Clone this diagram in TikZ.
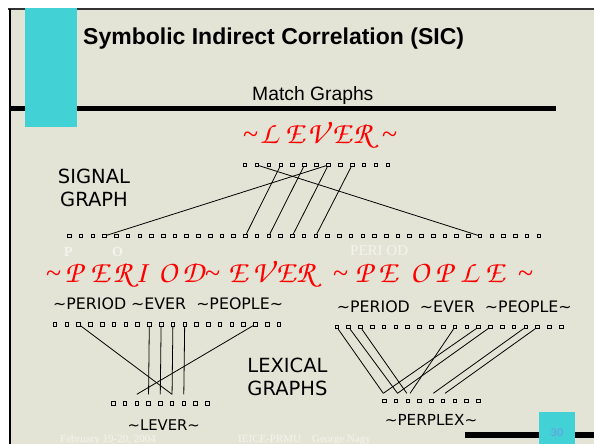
\documentclass[tikz,border=0pt]{standalone}
\usepackage{fontspec}
\usetikzlibrary{calc}
\setmainfont{Liberation Sans}
\newfontfamily\verd{DejaVu Sans}
\newfontfamily\tnr{Liberation Serif}
\newcommand\chanc{\usefont{OT1}{pzc}{mb}{it}}
\newcommand\rtl{{\tnr\itshape\fontsize{28}{30}\selectfont\textasciitilde}}
\definecolor{bg}{RGB}{228,228,214}
\definecolor{cyanbar}{RGB}{66,210,214}
\definecolor{redtxt}{RGB}{255,0,0}
\definecolor{pagenum}{RGB}{110,150,225}
\begin{document}
\begin{tikzpicture}[x=1pt,y=-1pt,
  sq/.style={draw=black,line width=0.75pt,minimum size=3.6pt,inner sep=0pt,rectangle},
  edge/.style={line width=0.8pt,black},
  lbl/.style={inner sep=0pt,anchor=base west},
  clbl/.style={inner sep=0pt,anchor=base},
  verdtxt/.style={font=\verd\fontsize{15.8}{18}\selectfont},
  bigverd/.style={font=\verd\fontsize{19.5}{22}\selectfont},
  redl/.style={inner sep=0pt,anchor=base west,text=redtxt,font=\fontsize{31}{34}\chanc},
  redtop/.style={redl,font=\fontsize{31}{34}\chanc},
  faint/.style={inner sep=0pt,anchor=base west,text=white,opacity=0.6}]
\useasboundingbox (0,0) rectangle (594,444);
\fill[white] (0,0) rectangle (594,444);
\fill[bg] (10,9) rectangle (594,444);
\draw[line width=1.4pt,black!80] (8,9) -- (594,9);
\draw[line width=2pt] (10,9) -- (10,444);
% header rule and bars
\fill[black] (10,106) rectangle (556,111);
\fill[cyanbar] (25,8) rectangle (77,127);
\fill[black] (465,432) rectangle (594,437.5);
\fill[cyanbar] (539,412) rectangle (575,444);
\node[inner sep=0pt,anchor=base,text=pagenum,font=\fontsize{11}{12}\selectfont] (pg) at (557,436) {30};
% titles
\node[lbl,font=\bfseries\fontsize{23}{26}\selectfont] (title) at (83,45) {Symbolic Indirect Correlation (SIC)};
\node[lbl,font=\fontsize{19.3}{22}\selectfont] (sub) at (252,100) {Match Graphs};
% faint white texts
\node[faint,font=\tnr\bfseries\fontsize{14}{16}\selectfont] (fp) at (64,256) {P};
\node[faint,font=\tnr\bfseries\fontsize{14}{16}\selectfont] (fo) at (112,256) {O};
\node[faint,font=\tnr\fontsize{15}{17}\selectfont] (fperiod) at (350,255.5) {PERI OD};
\node[faint,font=\tnr\fontsize{11}{13}\selectfont] (fdate) at (60,442) {February 19-20, 2004};
\node[faint,font=\tnr\fontsize{11}{13}\selectfont] (fconf) at (238,442) {IEICE-PRMU\quad George Nagy};
% red words
\foreach \x/\c [count=\n] in {243/\rtl,260/L,285/E,307/V,332/E,353/R,382/\rtl}
  \node[redtop] (rw\n) at (\x,143) {\c};
\foreach \x/\c [count=\n] in {46/\rtl,65/P,90/E,113/R,135/I,158/O,182/D,205/\rtl,228/E,252/V,276/E,296/R,333/\rtl,355/P,378/E,410/O,435/P,460/L,485/E,518/\rtl}
  \node[redl] (rs\n) at (\x,282.5) {\c};
% labels
\node[clbl,bigverd] (sig1) at (94,183.3) {SIGNAL};
\node[clbl,bigverd] (sig2) at (94,206) {GRAPH};
\node[clbl,bigverd] (lex1) at (287.5,372) {LEXICAL};
\node[clbl,bigverd] (lex2) at (287.5,395) {GRAPHS};
\node[lbl,verdtxt] (lw) at (53,309) {\textasciitilde PERIOD \textasciitilde EVER\ \ \textasciitilde PEOPLE\textasciitilde};
\node[lbl,verdtxt] (rw) at (336.7,312.3) {\textasciitilde PERIOD\ \ \textasciitilde EVER\ \ \textasciitilde PEOPLE\textasciitilde};
\node[clbl,font=\verd\fontsize{14.8}{17}\selectfont] (lever) at (163.8,430) {\textasciitilde LEVER\textasciitilde};
\node[clbl,font=\verd\fontsize{15.2}{17}\selectfont] (perplex) at (431,425.7) {\textasciitilde PERPLEX\textasciitilde};
% signal graph
\foreach \j in {0,...,12} \node[sq] (t\j) at ({245+11.9*\j},165) {};
\foreach \i in {0,...,40} \node[sq] (b\i) at ({69.3+11.735*\i},236) {};
\draw[edge] (b3) -- (t7);
\draw[edge] (b15) -- (t3);
\draw[edge] (b17) -- (t5);
\draw[edge] (b19) -- (t7);
\draw[edge] (b21) -- (t9);
\draw[edge] (b35) -- (t1);
% left lexical graph
\foreach \k in {0,...,19} \node[sq] (lt\k) at ({55+11.79*\k},324.3) {};
\foreach \k in {0,...,8} \node[sq] (lb\k) at ({113.3+11.75*\k},403.3) {};
\foreach \k in {2,...,6} \coordinate (le\k) at ($(lb\k)+(0,-9)$);
\draw[edge] (lt2) -- (le5);
\draw[edge] (lt8) -- (le3);
\draw[edge] (lt9) -- (le4);
\draw[edge] (lt10) -- (le5);
\draw[edge] (lt11) -- (le6);
\draw[edge] (lt17) -- (le2);
% right lexical graph
\foreach \k in {0,...,19} \node[sq] (rt\k) at ({336.7+11.82*\k},327) {};
\foreach \k in {0,...,8} \node[sq] (rb\k) at ({384.3+11.75*\k},400.7) {};
\coordinate (re0) at ($(rb0)+(-1,-7.4)$);
\coordinate (re1) at ($(rb1)+(1.5,-7.4)$);
\coordinate (re2a) at ($(rb2)+(-1,-7.4)$);
\coordinate (re2b) at ($(rb2)+(2.3,-7.4)$);
\coordinate (re4) at ($(rb4)+(2,-7.4)$);
\coordinate (re5) at ($(rb5)+(2,-7.4)$);
\draw[edge] (rt0) -- (re0);
\draw[edge] (rt1) -- (re1);
\draw[edge] (rt2) -- (re2a);
\draw[edge] (rt10) -- (re2b);
\draw[edge] (rt12) -- (re0);
\draw[edge] (rt13) -- (re1);
\draw[edge] (rt16) -- (re4);
\draw[edge] (rt17) -- (re5);
\end{tikzpicture}
\end{document}
